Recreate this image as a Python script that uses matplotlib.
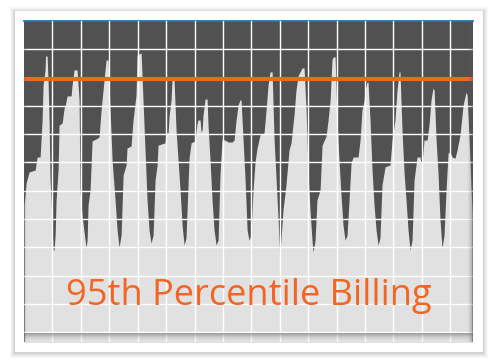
import numpy as np
import matplotlib
matplotlib.use("Agg")
import matplotlib.pyplot as plt
from matplotlib.patches import Rectangle

# ---- data: time (hours) and traffic (Mbps) ----
hours = [0.1, 1.8, 4.3, 9.4, 11.1, 13.6, 14.4, 15.3, 16.1, 17.8, 18.2, 19.5, 20.3, 21.2, 22.0, 22.9,
         23.7, 24.6, 25.4, 26.3, 27.1, 28.8, 29.6, 32.2, 33.9, 34.7, 36.4, 39.8, 40.6, 42.3, 44.8,
         46.5, 47.3, 49.0, 51.6, 52.4, 53.3, 54.1, 55.8, 57.5, 60.9, 63.4, 65.1, 67.6, 69.3, 71.0,
         72.7, 74.4, 76.9, 78.6, 80.3, 82.0, 83.7, 86.2, 87.0, 90.4, 92.1, 94.6, 95.5, 98.9, 100.5,
         102.2, 103.9, 105.6, 107.3, 109.0, 110.7, 112.4, 113.2, 119.1, 120.0, 121.7, 122.5, 124.2,
         125.0, 126.7, 128.4, 130.1, 131.8, 133.5, 135.2, 136.8, 139.4, 141.1, 144.4, 146.1, 147.0,
         148.7, 149.5, 150.4, 151.2, 152.9, 154.6, 155.4, 157.1, 158.8, 160.5, 162.2, 163.9, 165.5,
         167.2, 169.8, 172.3, 175.7, 177.4, 179.1, 180.8, 182.4, 183.3, 185.0, 186.7, 188.4, 190.0,
         191.7, 193.4, 195.1, 196.8, 199.3, 202.7, 204.4, 206.1, 207.8, 209.5, 211.2, 212.9, 214.6,
         216.0, 217.0, 218.7, 221.2, 223.8, 225.5, 228.0, 229.7, 231.4, 233.1, 234.8, 236.5, 238.2,
         239.8, 241.5, 243.2, 244.1, 245.8, 247.4, 250.0, 251.7, 255.1, 256.8, 258.5, 260.1, 261.0,
         262.7, 264.3, 266.0, 267.7, 269.4, 271.1, 272.8, 274.5, 276.2, 277.9, 282.1, 283.8, 285.4,
         287.1, 288.0, 289.7, 290.5, 292.2, 293.9, 295.6, 297.3, 299.0, 300.6, 302.3, 304.9, 309.1,
         310.8, 313.3, 315.0, 316.7, 317.5, 319.2, 320.9, 322.6, 324.3, 326.0, 327.7, 329.4, 331.9,
         334.4, 335.3, 336.1, 337.8, 340.4, 342.0, 343.7, 345.4, 346.3, 348.0, 349.7, 351.3, 353.0,
         354.7, 356.4, 358.1, 359.8, 361.5, 364.0, 365.7, 368.2, 370.8, 373.3, 374.2, 375.9, 377.6,
         378.4]
mbps = [44.9, 52.7, 56.6, 57.3, 61.9, 61.9, 67.9, 75.0, 87.4, 92.7, 97.6, 97.6, 89.1, 75.0, 53.8, 46.7,
        37.8, 29.0, 29.0, 34.3, 46.7, 57.3, 73.2, 73.9, 79.2, 79.9, 83.5, 83.5, 87.4, 92.7, 92.7,
        82.1, 50.2, 41.4, 32.5, 30.0, 32.5, 44.9, 50.2, 67.6, 68.3, 69.0, 78.5, 89.1, 96.2, 96.2,
        78.5, 60.8, 46.7, 36.1, 30.0, 34.3, 55.5, 59.1, 65.1, 65.8, 75.0, 83.8, 98.0, 98.7, 82.1,
        64.4, 46.7, 36.1, 31.5, 34.3, 53.8, 59.1, 66.1, 66.9, 70.4, 70.4, 76.4, 82.1,
        89.1, 89.1, 71.5, 60.8, 50.2, 37.8, 30.8, 33.3, 61.5, 66.9, 67.6, 73.6, 75.0,
        75.0, 70.7, 71.5, 76.8, 82.4, 82.4, 73.2, 60.8, 46.7, 36.1, 30.8, 32.5, 55.5,
        67.9, 67.9, 67.2, 67.2, 67.9, 75.0, 80.3, 82.1, 82.1, 67.9, 53.8, 36.1, 32.5,
        34.3, 50.2, 60.1, 65.1, 69.7, 70.4, 78.5, 87.4, 92.0, 92.0, 67.9, 53.8, 39.6,
        26.5, 32.5, 43.2, 52.0, 64.4, 66.9, 76.8, 85.6, 90.6, 92.0, 93.4, 93.4, 78.5,
        57.3, 43.2, 32.5, 28.3, 32.5, 46.7, 50.2, 66.1, 69.3, 75.0, 82.1, 96.2, 97.3,
        97.3, 75.0, 60.8, 48.5, 37.8, 32.5, 34.3, 46.7, 59.8, 61.9, 61.9, 67.9, 78.5,
        81.7, 85.6, 88.4, 88.4, 75.0, 57.3, 44.9, 36.1, 30.8, 33.3, 52.0, 58.4, 59.1,
        67.9, 75.0, 85.6, 92.0, 92.0, 71.5, 56.6, 46.7, 36.1, 29.0, 32.5, 53.8, 61.9,
        61.9, 59.8, 59.8, 67.9, 67.9, 73.2, 82.1, 86.3, 85.6, 67.9, 55.5, 39.6, 29.7,
        34.3, 50.2, 63.3, 63.7, 61.9, 61.5, 64.4, 69.7, 80.3, 84.9, 83.8, 67.9, 50.2,
        42.1]
percentile_95 = 89.5
title_text = "95th Percentile Billing"

W, H = 500, 364
fig = plt.figure(figsize=(W / 100, H / 100), dpi=100)
fig.patch.set_facecolor("white")

# card shadow + card
card = (15, 11, 468, 341)  # x, y(top), w, h in pixels
for i, a in enumerate([0.025, 0.03, 0.035, 0.04, 0.05]):
    g = 5 - i
    fig.patches.append(Rectangle(((card[0] - g) / W, (H - card[1] - card[3] - g - 1) / H),
                                 (card[2] + 2 * g) / W, (card[3] + 2 * g) / H,
                                 transform=fig.transFigure, facecolor="black", alpha=a,
                                 edgecolor="none", zorder=0))
fig.patches.append(Rectangle((card[0] / W, (H - card[1] - card[3]) / H), card[2] / W, card[3] / H,
                             transform=fig.transFigure, facecolor="white", edgecolor="none", zorder=1))

left, right, top, bottom = 24, 472.7, 20.7, 342
ax = fig.add_axes([left / W, (H - bottom) / H, (right - left) / W, (bottom - top) / H])
ax.set_facecolor("#515151")
ax.set_zorder(2)

ax.fill_between(hours, mbps, -10, color="#e1e1e1", linewidth=0, zorder=1)
ax.set_xlim(0, 378.9)
ax.set_ylim(-3.5, 110.1)

ax.set_xticks(np.arange(24, 378.9, 24))
ax.set_yticks(np.arange(0, 110, 10))
ax.grid(True, color="white", linewidth=1.0, zorder=3)
ax.set_axisbelow(False)
ax.tick_params(length=0, labelbottom=False, labelleft=False)
for s in ["left", "right", "bottom"]:
    ax.spines[s].set_visible(False)
ax.spines["top"].set_color("#1b79b0")
ax.spines["top"].set_linewidth(1.3)

ax.axhline(percentile_95, color="#f26522", linewidth=3.0, zorder=4)

# inner shading at bottom and right edge
grad = np.linspace(0, 1, 64)
bot = np.zeros((64, 2, 4))
bot[..., :3] = 0.35
bot[..., 3] = (grad[::-1] ** 2)[:, None] * 0.55
ax.imshow(bot, extent=[0, 1, 0, 0.028], transform=ax.transAxes, aspect="auto", zorder=5,
          origin="upper")
rgt = np.zeros((2, 64, 4))
rgt[..., :3] = 0.35
rgt[..., 3] = (grad ** 2)[None, :] * 0.5
ax.imshow(rgt, extent=[0.985, 1, 0, 1], transform=ax.transAxes, aspect="auto", zorder=5)
lft = np.zeros((2, 64, 4))
lft[..., :3] = 0.35
lft[..., 3] = (grad[::-1] ** 2)[None, :] * 0.3
ax.imshow(lft, extent=[0, 0.008, 0, 1], transform=ax.transAxes, aspect="auto", zorder=5)
ax.set_xlim(0, 378.9)
ax.set_ylim(-3.5, 110.1)

fig.text(248.5 / W, (H - 296) / H, title_text, color="#f26522", fontsize=26,
         family=["Open Sans", "DejaVu Sans"], ha="center", va="center", zorder=10)

fig.savefig("out.png", dpi=100)
